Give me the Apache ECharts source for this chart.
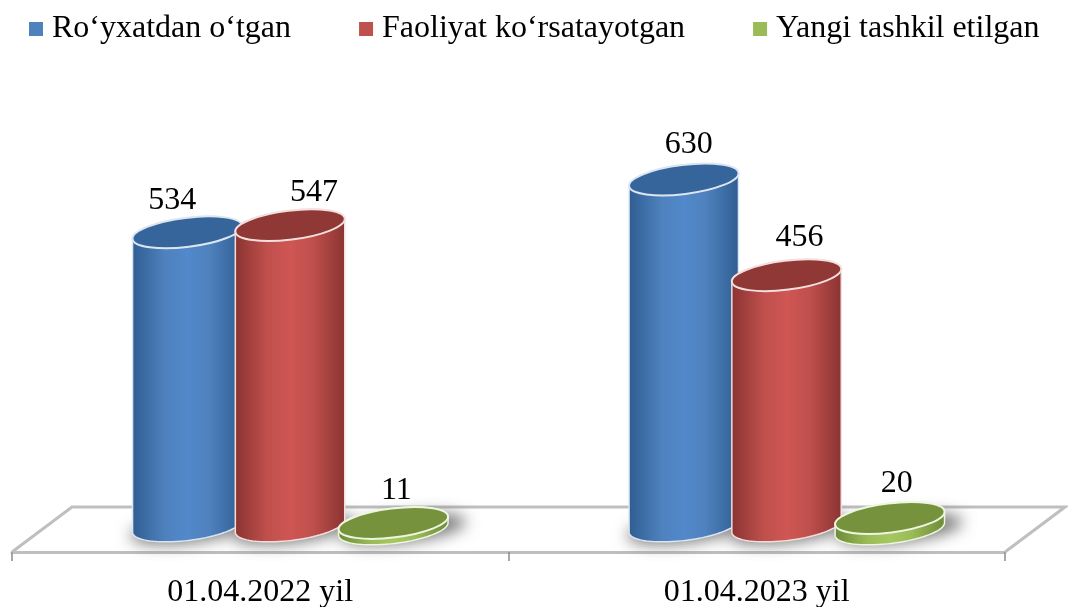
<!DOCTYPE html>
<html>
<head>
<meta charset="utf-8">
<style>
  html, body { margin: 0; padding: 0; background: #fff; }
  #chart { width: 1068px; height: 607px; }
</style>
<script src="https://cdn.jsdelivr.net/npm/echarts@6/dist/echarts.min.js"></script>
</head>
<body>
<div id="chart"></div>
<script>
const categories = ['01.04.2022 yil', '01.04.2023 yil']
const seriesNames = ['Ro‘yxatdan o‘tgan', 'Faoliyat ko‘rsatayotgan', 'Yangi tashkil etilgan']
const registered = [534, 630]
const active = [547, 456]
const newlyFounded = [11, 20]

const FONT = '"Liberation Serif", "Times New Roman", serif'
const TILT = -7 * Math.PI / 180
const OFFSCREEN = 3000 // shadows are cast from outside the canvas so only the blur shows

// side, top and light colours for each cylinder family
const looks = [
  { base: '#4f81bd', edge: '#2f5d92', light: '#5189cb', top: '#36659b', rim: '#dbe6f2' },
  { base: '#c0504d', edge: '#8a3331', light: '#cf5653', top: '#8f3836', rim: '#f2dfde' },
  { base: '#9bbb59', edge: '#6b8a36', light: '#a5c75f', top: '#76923c', rim: '#eef5e0' }
]
// bar centre relative to the category centre, as part of the band
const bandShift = [-0.147, 0.06, 0.268]
// hand placed value labels, px from the top of the bar
const labelShift = [
  [[-15, -32], [5, -35]],
  [[24, -33], [13, -38]],
  [[3, -29], [7, -31]]
]

function ellipsePoints(cx, cy, rx, ry, from, to) {
  const pts = []
  for (let i = 0; i <= 40; i++) {
    const t = from + (to - from) * i / 40
    const ex = rx * Math.cos(t)
    const ey = ry * Math.sin(t)
    pts.push([cx + ex * Math.cos(TILT) - ey * Math.sin(TILT), cy + ex * Math.sin(TILT) + ey * Math.cos(TILT)])
  }
  return pts
}

function cylinderRenderer(seriesIndex) {
  return function (params, api) {
    const idx = api.value(0)
    const val = api.value(1)
    const band = api.size([1, 0])[0]
    const rx = band * 0.111
    const ry = 14.5
    const flat = seriesIndex === 2
    const center = api.coord([idx, 0])
    const cx = center[0] + band * bandShift[seriesIndex]
    const drop = flat ? 3 : 0 // the flat discs sit a little lower on the floor
    const baseY = center[1] + drop
    const topY = api.coord([idx, val])[1] + drop
    const look = looks[seriesIndex]
    const shift = labelShift[seriesIndex][idx]

    const body = ellipsePoints(cx, baseY, rx, ry, 0, Math.PI)
      .concat(ellipsePoints(cx, topY, rx, ry, Math.PI, Math.PI * 2))

    const shadowX = cx + (flat ? 10 : 3) - OFFSCREEN
    const shadowY = baseY + (flat ? 0 : 3)

    return {
      type: 'group',
      children: [
        {
          type: 'ellipse',
          z2: 1,
          silent: true,
          originX: shadowX,
          originY: shadowY,
          rotation: -TILT,
          shape: { cx: shadowX, cy: shadowY, rx: rx + (flat ? 8 : 5), ry: ry - 1 },
          style: { fill: '#000', shadowBlur: 15, shadowOffsetX: OFFSCREEN, shadowColor: 'rgba(85,85,85,0.8)' }
        },
        {
          type: 'polygon',
          z2: 10 + seriesIndex * 10,
          shape: { points: body },
          style: {
            fill: {
              type: 'linear', x: 0, y: 0, x2: 1, y2: 0,
              colorStops: [
                { offset: 0, color: look.edge },
                { offset: 0.3, color: look.base },
                { offset: 0.5, color: look.light },
                { offset: 0.7, color: look.base },
                { offset: 1, color: look.edge }
              ]
            },
            stroke: look.rim,
            lineWidth: 1.5
          }
        },
        {
          type: 'ellipse',
          z2: 11 + seriesIndex * 10,
          originX: cx,
          originY: topY,
          rotation: -TILT,
          shape: { cx: cx, cy: topY, rx: rx, ry: ry },
          style: { fill: look.top, stroke: look.rim, lineWidth: 2 }
        },
        {
          type: 'text',
          z2: 50,
          style: {
            x: cx + shift[0],
            y: topY - drop + shift[1],
            text: String(val),
            fill: '#000',
            font: '32px ' + FONT,
            align: 'center',
            verticalAlign: 'middle'
          }
        }
      ]
    }
  }
}

// floor frame, hangs off the grid rect, front edge comes from the x axis line
function floorRenderer(params, api) {
  const box = params.coordSys
  const frontY = box.y + box.height + 26
  const backY = frontY - 45
  const left = box.x
  const right = box.x + box.width
  return {
    type: 'polyline',
    silent: true,
    z2: 0,
    shape: { points: [[left, frontY], [left + 60, backY], [right + 60, backY], [right, frontY]] },
    style: { fill: null, stroke: '#bfbfbf', lineWidth: 3 }
  }
}

function toPoints(values) {
  return values.map((v, i) => [i, v])
}

const chart = echarts.init(document.getElementById('chart'), null, { renderer: 'canvas' })

chart.setOption({
  animation: false,
  backgroundColor: '#fff',
  legend: {
    data: seriesNames,
    left: 24,
    top: 8,
    itemWidth: 14,
    itemHeight: 14,
    itemGap: 68,
    icon: 'rect',
    textStyle: { color: '#000', fontFamily: FONT, fontSize: 32, padding: [0, 0, 0, 4] }
  },
  grid: { left: 12, right: 63, top: 86, bottom: 81, outerBoundsMode: 'none' },
  xAxis: {
    type: 'category',
    data: categories,
    offset: 26,
    axisLine: { onZero: false, lineStyle: { color: '#bfbfbf', width: 3 } },
    axisTick: { show: true, length: 9, lineStyle: { color: '#8c8c8c', width: 1.5 } },
    axisLabel: { color: '#000', fontFamily: FONT, fontSize: 32, margin: 25 }
  },
  yAxis: {
    type: 'value',
    min: 0,
    max: 800,
    show: false,
    splitLine: { show: false }
  },
  series: [
    { type: 'custom', name: 'floor', data: [0], renderItem: floorRenderer, silent: true, z: 1, clip: false },
    { type: 'custom', name: seriesNames[0], data: toPoints(registered), itemStyle: { color: looks[0].base }, renderItem: cylinderRenderer(0), encode: { x: 0, y: 1 }, clip: false },
    { type: 'custom', name: seriesNames[1], data: toPoints(active), itemStyle: { color: looks[1].base }, renderItem: cylinderRenderer(1), encode: { x: 0, y: 1 }, clip: false },
    { type: 'custom', name: seriesNames[2], data: toPoints(newlyFounded), itemStyle: { color: looks[2].base }, renderItem: cylinderRenderer(2), encode: { x: 0, y: 1 }, clip: false }
  ]
})

window.addEventListener('resize', () => chart.resize())
</script>
</body>
</html>
